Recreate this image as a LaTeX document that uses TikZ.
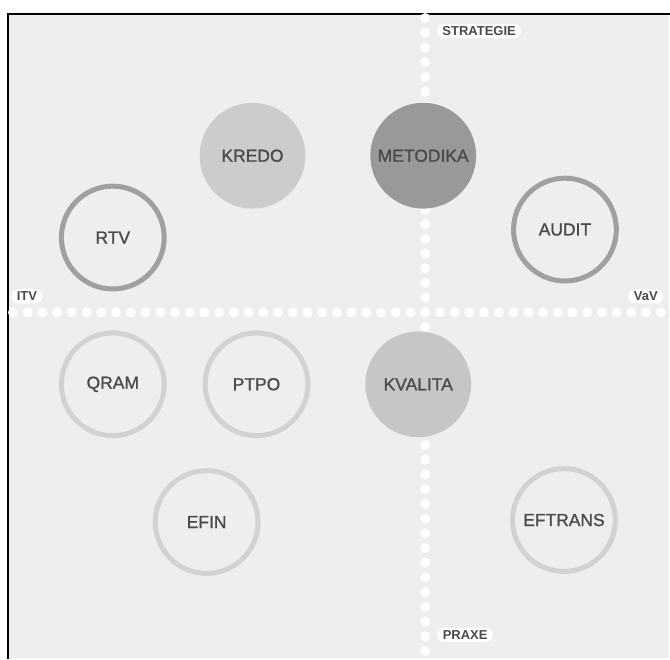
\documentclass[tikz,border=0pt]{standalone}
\usepackage{fontspec}
\setmainfont{Liberation Sans}
\newfontfamily\topicfont[FakeBold=1]{Liberation Sans}
\definecolor{panel}{HTML}{EEEEEE}
\definecolor{labeltext}{HTML}{4A4A4A}
\definecolor{ringdark}{HTML}{A0A0A0}
\definecolor{ringlight}{HTML}{D2D2D2}
\definecolor{filllight}{HTML}{CCCCCC}
\definecolor{fillmid}{HTML}{C6C6C6}
\definecolor{filldark}{HTML}{999999}
\begin{document}
\begin{tikzpicture}[x=1pt,y=-1pt,
  topic/.style={circle, inner sep=0pt, text=labeltext,
    font=\fontsize{17.5}{20}\topicfont},
  ring/.style={topic, draw=#1, line width=5pt, minimum size=103pt},
  disc/.style={topic, fill=#1, minimum size=106pt},
  axislabel/.style={fill=white, rounded corners=7pt, text=labeltext,
    font=\fontsize{13}{15}\selectfont\bfseries, inner xsep=5.5pt, inner ysep=2.5pt}
]
% canvas and frame
\fill[white] (0,0) rectangle (670,659);
\fill[panel] (8,14) rectangle (670,659);
\draw[line width=2.5pt, line cap=rect] (8,659) -- (8,14) -- (670,14);

% dotted axes
\foreach \k in {-20,...,23}
  \fill[white] (426,313+14.75*\k) circle (5);
\foreach \k in {-28,...,16}
  \fill[white] (426+14.75*\k,313) circle (5);

% axis labels
\node[axislabel] (strategie) at (480,31) {STRATEGIE};
\node[axislabel] (itv) at (27,297) {ITV};
\node[axislabel] (vav) at (647,297) {VaV};
\node[axislabel] (praxe) at (466,636) {PRAXE};

% topics
\node[disc=filllight] (kredo) at (253,156) {KREDO};
\node[disc=filldark] (metodika) at (424,156) {METODIKA};
\node[ring=ringdark] (rtv) at (113,238) {RTV};
\node[ring=ringdark] (audit) at (566,230) {AUDIT};
\node[ring=ringlight] (qram) at (113,385) {QRAM};
\node[ring=ringlight] (ptpo) at (257,385) {PTPO};
\node[disc=fillmid] (kvalita) at (419,385) {KVALITA};
\node[ring=ringlight] (efin) at (207,523) {EFIN};
\node[ring=ringlight] (eftrans) at (565,521) {EFTRANS};
\end{tikzpicture}
\end{document}
